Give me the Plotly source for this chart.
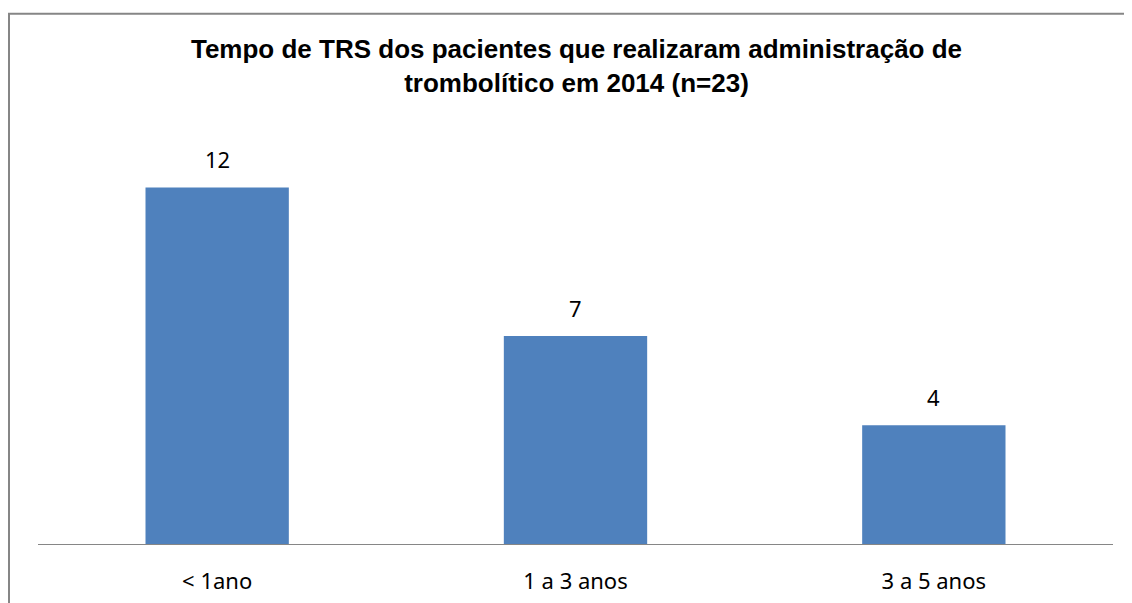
import plotly.graph_objects as go

categories = ["< 1ano", "1 a 3 anos", "3 a 5 anos"]
values = [12, 7, 4]
title_text = "<b>Tempo de TRS dos pacientes que realizaram administração de<br>trombolítico em 2014 (n=23)</b>"

# page body has an 8px margin; figure coords = screen coords - 8
OFF = 8
W, H = 1132 - OFF, 603 - OFF
ml = 38 - OFF
mr = W - (1113 - OFF)
mb = H - (544 - OFF)
mt = 127.5 - OFF
pw, ph = W - ml - mr, H - mt - mb

def px_x(x):
    return (x - OFF - ml) / pw

def px_y(y):
    return (H - mb - (y - OFF)) / ph

label_font = dict(family="Noto Sans, Open Sans, sans-serif", size=22, color="#000000")

fig = go.Figure(go.Bar(
    x=categories, y=values,
    marker=dict(color="#4F81BD", line=dict(width=0)),
    cliponaxis=False,
))

for c, v in zip(categories, values):
    fig.add_annotation(x=c, y=v, text=str(v), showarrow=False, yanchor="middle",
                       yshift=28, font=label_font)

fig.update_layout(
    width=W, height=H,
    margin=dict(l=ml, r=mr, t=mt, b=mb, autoexpand=False),
    paper_bgcolor="white", plot_bgcolor="white",
    bargap=0.6,
    showlegend=False,
    title=dict(text=title_text, x=(576.5 - OFF) / W, xanchor="center",
               y=1 - (58 - OFF) / H, yanchor="middle",
               font=dict(family="Liberation Sans, Arial, sans-serif", size=26, color="#000000")),
    xaxis=dict(showline=True, linecolor="#868686", linewidth=1, ticks="",
               ticklabelstandoff=18, automargin=False,
               tickfont=label_font, showgrid=False, zeroline=False),
    yaxis=dict(range=[0, 14], visible=False, showgrid=False, zeroline=False, automargin=False),
    font=dict(family="Liberation Sans, Arial, sans-serif"),
)

fig.add_shape(type="rect", xref="paper", yref="paper",
              x0=px_x(9), x1=px_x(1132 + 60), y0=px_y(603 + 60), y1=px_y(13),
              line=dict(color="#868686", width=2), fillcolor="rgba(0,0,0,0)", layer="below")

fig.write_html("out.html")
